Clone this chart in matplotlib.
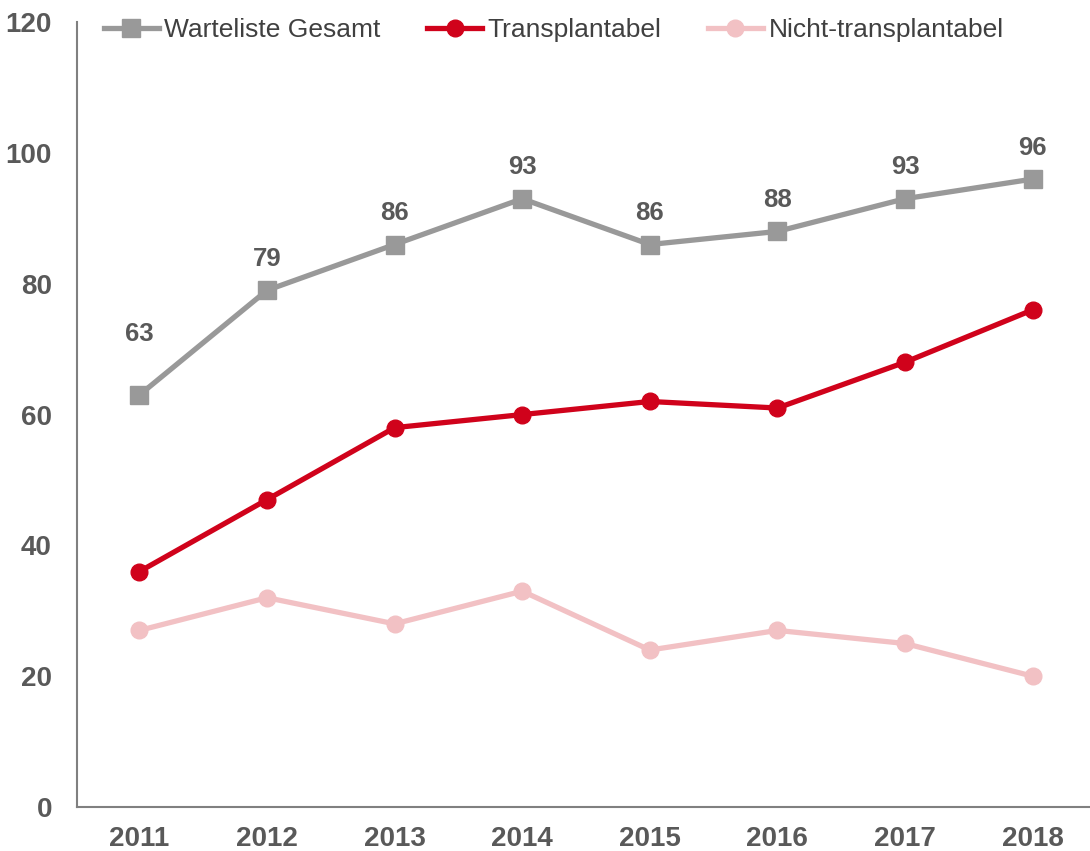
import matplotlib.pyplot as plt

plt.rcParams['font.family'] = ['Liberation Sans', 'DejaVu Sans']

years = ['2011', '2012', '2013', '2014', '2015', '2016', '2017', '2018']
gesamt = [63, 79, 86, 93, 86, 88, 93, 96]
transplantabel = [36, 47, 58, 60, 62, 61, 68, 76]
nicht_transplantabel = [27, 32, 28, 33, 24, 27, 25, 20]

c_gray = '#999999'
c_red = '#D0021B'
c_pink = '#F2C1C4'
c_text = '#595959'

fig = plt.figure(figsize=(10.9, 8.51), dpi=100)
ax = fig.add_axes([0.0706, 0.0517, 0.9294, 0.9223])

x = list(range(len(years)))
ax.plot(x, gesamt, color=c_gray, lw=3.8, marker='s', ms=13, label='Warteliste Gesamt', zorder=3)
ax.plot(x, transplantabel, color=c_red, lw=3.8, marker='o', ms=12, label='Transplantabel', zorder=3)
ax.plot(x, nicht_transplantabel, color=c_pink, lw=3.8, marker='o', ms=12, label='Nicht-transplantabel', zorder=2)

# Beschriftung ueber der Gesamtlinie (erste etwas hoeher wie im Original)
for i, (xi, v) in enumerate(zip(x, gesamt)):
    off = 35 if i == 0 else 14
    ax.annotate(str(v), (xi, v), xytext=(0, off), textcoords='offset points',
                ha='center', va='bottom', fontsize=18.5, fontweight='bold', color=c_text)

ax.set_ylim(0, 120)
ax.set_xlim(-0.49, 7.45)
ax.set_yticks(range(0, 121, 20))
ax.set_xticks(x)
ax.set_xticklabels(years)
ax.tick_params(axis='both', length=0, labelsize=20, labelcolor=c_text)
ax.tick_params(axis='x', pad=14)
ax.tick_params(axis='y', pad=18)
for lab in ax.get_xticklabels() + ax.get_yticklabels():
    lab.set_fontweight('bold')

for s in ['top', 'right']:
    ax.spines[s].set_visible(False)
for s in ['left', 'bottom']:
    ax.spines[s].set_color('#808080')
    ax.spines[s].set_linewidth(1.5)

leg = ax.legend(loc='upper left', bbox_to_anchor=(0.003, 1.035), ncol=3, frameon=False,
                fontsize=19, handlelength=2.1, handletextpad=0.2, columnspacing=1.75)
for t in leg.get_texts():
    t.set_color('#404040')

fig.savefig('out.png', dpi=100)
